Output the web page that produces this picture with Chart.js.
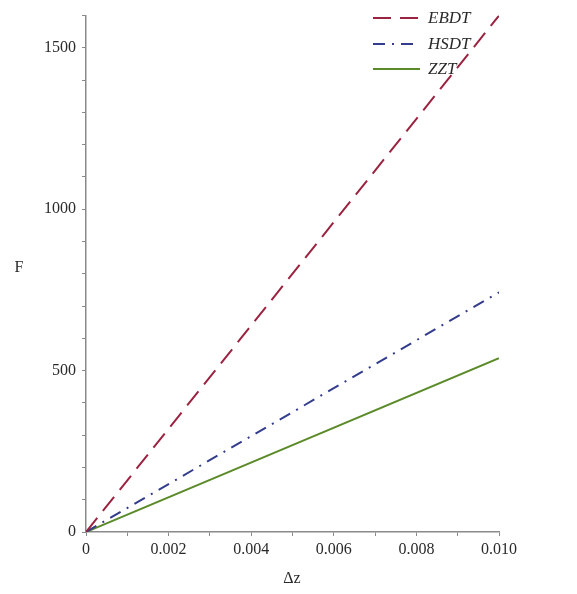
<!DOCTYPE html>
<html>
<head>
<meta charset="utf-8">
<script src="https://cdn.jsdelivr.net/npm/chart.js@4"></script>
<style>
  html, body { margin: 0; padding: 0; background: #fff; }
  #wrap { width: 577px; height: 594px; position: relative; }
</style>
</head>
<body>
<div id="wrap"><canvas id="chart"></canvas></div>
<script>
// data (straight lines from the origin)
const dz = [0, 0.010];
const ebdt = [0, 1590];
const hsdt = [0, 738];
const zzt = [0, 535];
const seriesNames = ['EBDT', 'HSDT', 'ZZT'];
const xTickLabels = ['0', '0.002', '0.004', '0.006', '0.008', '0.010'];
const yTickLabels = ['0', '500', '1000', '1500'];

const serif = '"Liberation Serif", "DejaVu Serif", serif';
const axisGray = '#8a8a8a';

function pts(ys) {
    return dz.map((x, i) => ({ x: x, y: ys[i] }));
}

// legend drawn inside the plot area, top right
const innerLegend = {
    id: 'innerLegend',
    afterDraw(chart) {
        const ctx = chart.ctx;
        const x0 = 373, x1 = 420;
        const rows = [18, 44, 69];
        ctx.save();
        chart.data.datasets.forEach((ds, i) => {
            const y = rows[i];
            ctx.strokeStyle = ds.borderColor;
            ctx.lineWidth = 2;
            ctx.setLineDash(ds.borderDash || []);
            ctx.beginPath();
            ctx.moveTo(x0, y);
            ctx.lineTo(x1, y);
            ctx.stroke();
            ctx.setLineDash([]);
            ctx.fillStyle = '#2a2a2a';
            ctx.font = 'italic 17px ' + serif;
            ctx.textBaseline = 'middle';
            ctx.textAlign = 'left';
            ctx.fillText(ds.label, 428, y + 1);
        });
        // axis titles (upright F, like the original)
        ctx.font = '16px ' + serif;
        ctx.fillStyle = '#2a2a2a';
        ctx.textAlign = 'center';
        ctx.fillText('F', 19, 268);
        ctx.fillText('\u0394z', 292, 579);
        ctx.restore();
    }
};

new Chart(document.getElementById('chart').getContext('2d'), {
    type: 'line',
    data: {
        datasets: [{
            label: seriesNames[0],
            data: pts(ebdt),
            borderColor: '#9b2340',
            borderWidth: 2,
            borderDash: [18, 9],
            pointRadius: 0
        }, {
            label: seriesNames[1],
            data: pts(hsdt),
            borderColor: '#343c8c',
            borderWidth: 2,
            borderDash: [12, 7, 2, 7],
            pointRadius: 0
        }, {
            label: seriesNames[2],
            data: pts(zzt),
            borderColor: '#5b8a28',
            borderWidth: 2,
            pointRadius: 0
        }]
    },
    options: {
        responsive: true,
        maintainAspectRatio: false,
        animation: false,
        layout: {
            padding: { top: 15, right: 78, left: 0, bottom: 0 }
        },
        plugins: {
            legend: { display: false },
            tooltip: { enabled: false }
        },
        scales: {
            x: {
                type: 'linear',
                min: 0,
                max: 0.010,
                afterFit: s => { s.height = 62; },
                border: { color: axisGray, width: 1.5 },
                grid: {
                    drawOnChartArea: false,
                    drawTicks: true,
                    tickLength: 4,
                    color: axisGray
                },
                ticks: {
                    stepSize: 0.001,
                    includeBounds: false,
                    maxRotation: 0,
                    autoSkip: false,
                    padding: 4,
                    color: '#2a2a2a',
                    font: { family: serif, size: 16 },
                    callback: (v, i) => (i % 2 === 0 ? xTickLabels[i / 2] : '')
                }
            },
            y: {
                min: 0,
                max: 1590,
                afterFit: s => { s.width = 86; },
                border: { color: axisGray, width: 1.5 },
                grid: {
                    drawOnChartArea: false,
                    drawTicks: true,
                    tickLength: 4,
                    color: axisGray
                },
                ticks: {
                    stepSize: 100,
                    includeBounds: false,
                    autoSkip: false,
                    padding: 6,
                    color: '#2a2a2a',
                    font: { family: serif, size: 16 },
                    callback: (v, i) => (i % 5 === 0 ? yTickLabels[i / 5] : '')
                }
            }
        }
    },
    plugins: [innerLegend]
});
</script>
</body>
</html>
